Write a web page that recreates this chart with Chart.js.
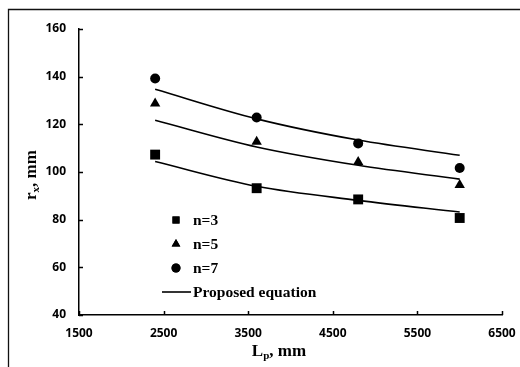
<!DOCTYPE html>
<html>
<head>
<meta charset="utf-8">
<script src="https://cdn.jsdelivr.net/npm/chart.js@4.4.1/dist/chart.umd.min.js"></script>
<style>
  html, body { margin: 0; padding: 0; background: #fff; }
  #wrap { width: 520px; height: 367px; }
</style>
</head>
<body>
<div id="wrap"><canvas id="chart" width="520" height="367"></canvas></div>
<script>
// pile length Lp (mm)
const lengths = [2400, 3600, 4800, 6000];

// measured rx (mm)
const n3 = [107.3, 93.2, 88.5, 80.7];
const n5 = [128.7, 112.7, 104.2, 94.5];
const n7 = [139.2, 122.9, 112.0, 101.7];

// proposed equation curves
const eq3 = [104.4, 94.0, 88.1, 83.2];
const eq5 = [121.7, 110.5, 102.8, 97.0];
const eq7 = [134.7, 122.3, 113.4, 107.0];

const xTicks = [1500, 2500, 3500, 4500, 5500, 6500];
const yTicks = [40, 60, 80, 100, 120, 140, 160];

const legendItems = [
  { text: 'n=3', style: 'rect', radius: 5 },
  { text: 'n=5', style: 'triangle', radius: 5 },
  { text: 'n=7', style: 'circle', radius: 4.5 },
  { text: 'Proposed equation', style: 'line' }
];

const pts = (ys) => ys.map((y, i) => ({ x: lengths[i], y: y }));

const markerSet = (label, ys, style, r) => ({
  label: label,
  data: pts(ys),
  showLine: false,
  pointStyle: style,
  pointRadius: r,
  pointHoverRadius: r,
  pointBackgroundColor: '#000',
  pointBorderColor: '#000',
  pointBorderWidth: 0
});

const curveSet = (ys) => ({
  label: 'Proposed equation',
  data: pts(ys),
  showLine: true,
  borderColor: '#000',
  borderWidth: 1.6,
  pointRadius: 0,
  cubicInterpolationMode: 'monotone',
  fill: false
});

const tickFont = { family: 'Open Sans', weight: 'bold', size: 12 };

// frame, inside ticks, axis titles with subscripts, legend
const decor = {
  id: 'decor',
  beforeDraw(chart) {
    const ctx = chart.ctx;
    ctx.save();
    ctx.strokeStyle = '#111';
    ctx.lineWidth = 1.3;
    ctx.beginPath();
    ctx.moveTo(8.5, 367);
    ctx.lineTo(8.5, 9.5);
    ctx.lineTo(520, 9.5);
    ctx.stroke();
    ctx.restore();
  },
  afterDraw(chart) {
    const ctx = chart.ctx;
    const xs = chart.scales.x, ys = chart.scales.y;
    const a = chart.chartArea;
    ctx.save();
    ctx.strokeStyle = '#000';
    ctx.lineWidth = 1.5;
    xTicks.forEach(v => {
      const px = Math.round(xs.getPixelForValue(v)) + 0.5;
      ctx.beginPath();
      ctx.moveTo(px, a.bottom);
      ctx.lineTo(px, a.bottom - 4);
      ctx.stroke();
    });
    yTicks.forEach(v => {
      const py = Math.round(ys.getPixelForValue(v)) + 0.5;
      ctx.beginPath();
      ctx.moveTo(a.left, py);
      ctx.lineTo(a.left + 4, py);
      ctx.stroke();
    });

    // axis titles
    const big = 'bold 17px "Liberation Serif"';
    const small = 'bold 11px "Liberation Serif"';
    const drawTitle = (main, sub, rest, cx, cy, rot) => {
      ctx.font = big;
      const w1 = ctx.measureText(main).width;
      const w3 = ctx.measureText(rest).width;
      ctx.font = small;
      const w2 = ctx.measureText(sub).width;
      const total = w1 + w2 + w3;
      ctx.save();
      ctx.translate(cx, cy);
      ctx.rotate(rot);
      ctx.fillStyle = '#000';
      ctx.textBaseline = 'middle';
      ctx.textAlign = 'left';
      let x0 = -total / 2;
      ctx.font = big;
      ctx.fillText(main, x0, 0);
      ctx.font = small;
      ctx.fillText(sub, x0 + w1, 4);
      ctx.font = big;
      ctx.fillText(rest, x0 + w1 + w2, 0);
      ctx.restore();
    };
    drawTitle('L', 'p', ', mm', 279, 352, 0);
    drawTitle('r', 'x', ', mm', 32, 175, -Math.PI / 2);

    // legend
    const rowY = [220, 244, 268, 292];
    ctx.fillStyle = '#000';
    legendItems.forEach((it, i) => {
      const y = rowY[i];
      if (it.style === 'line') {
        ctx.lineWidth = 1.6;
        ctx.beginPath();
        ctx.moveTo(162, y);
        ctx.lineTo(191, y);
        ctx.stroke();
      } else {
        Chart.helpers.drawPoint(ctx, { pointStyle: it.style, radius: it.radius, borderWidth: 0 }, 176, y);
        ctx.fill();
      }
      ctx.font = 'bold 15.5px "Liberation Serif"';
      ctx.textBaseline = 'middle';
      ctx.textAlign = 'left';
      ctx.fillText(it.text, 193, y + 1);
    });
    ctx.restore();
  }
};

new Chart(document.getElementById('chart'), {
  type: 'scatter',
  data: {
    datasets: [
      markerSet('n=3', n3, 'rect', 7),
      markerSet('n=5', n5, 'triangle', 6),
      markerSet('n=7', n7, 'circle', 5),
      curveSet(eq3),
      curveSet(eq5),
      curveSet(eq7)
    ]
  },
  options: {
    responsive: false,
    animation: false,
    layout: { padding: { left: 0, top: 29, right: 18, bottom: 0 } },
    plugins: {
      legend: { display: false },
      tooltip: { enabled: false }
    },
    scales: {
      x: {
        type: 'linear',
        min: 1500,
        max: 6500,
        afterBuildTicks: (s) => { s.ticks = xTicks.map(v => ({ value: v })); },
        afterFit: (s) => { s.height = 52; s.paddingRight = 0; s.paddingLeft = 0; },
        grid: { display: false, drawTicks: false },
        border: { display: true, color: '#000', width: 1.5 },
        ticks: { font: tickFont, color: '#000', padding: 11, maxRotation: 0, callback: (v) => String(v) }
      },
      y: {
        min: 40,
        max: 160,
        afterBuildTicks: (s) => { s.ticks = yTicks.map(v => ({ value: v })); },
        afterFit: (s) => { s.width = 79; s.paddingTop = 0; s.paddingBottom = 0; },
        grid: { display: false, drawTicks: false },
        border: { display: true, color: '#000', width: 1.5 },
        ticks: { font: tickFont, color: '#000', padding: 13, callback: (v) => String(v) }
      }
    }
  },
  plugins: [decor]
});
</script>
</body>
</html>
